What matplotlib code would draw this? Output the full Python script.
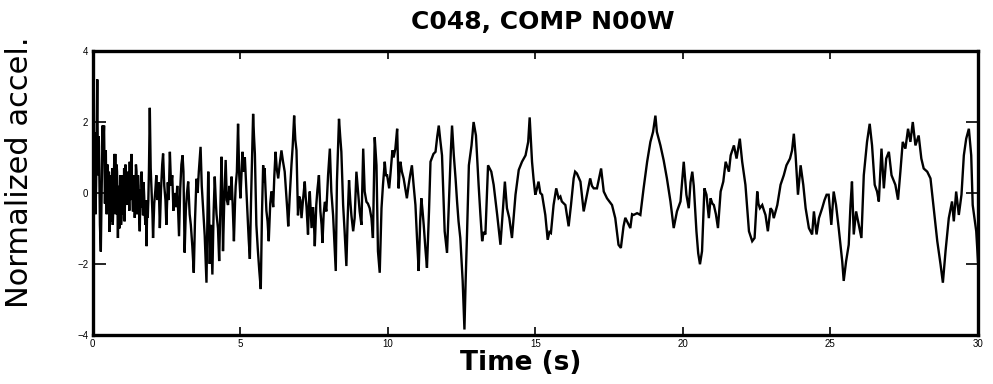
import matplotlib
matplotlib.use("Agg")
import matplotlib.pyplot as plt

TITLE = "C048, COMP N00W"
X_TICKS = [0, 5, 10, 15, 20, 25, 30]
Y_TICKS = [-4, -2, 0, 2, 4]

t_s = [
    0.00, 0.02, 0.04, 0.05, 0.07, 0.09, 0.10, 0.12, 0.13, 0.16,
    0.18, 0.19, 0.21, 0.22, 0.25, 0.28, 0.30, 0.31, 0.33, 0.34,
    0.36, 0.39, 0.41, 0.42, 0.44, 0.45, 0.465, 0.48, 0.495, 0.51,
    0.525, 0.54, 0.555, 0.58, 0.595, 0.61, 0.625, 0.64, 0.655, 0.67,
    0.685, 0.70, 0.72, 0.74, 0.755, 0.77, 0.785, 0.80, 0.815, 0.83,
    0.845, 0.86, 0.875, 0.89, 0.905, 0.92, 0.935, 0.95, 0.965, 0.98,
    0.995, 1.01, 1.025, 1.04, 1.055, 1.07, 1.085, 1.10, 1.115, 1.13,
    1.15, 1.17, 1.19, 1.21, 1.23, 1.245, 1.26, 1.275, 1.29, 1.305,
    1.32, 1.335, 1.35, 1.37, 1.39, 1.41, 1.43, 1.45, 1.47, 1.49,
    1.505, 1.52, 1.54, 1.56, 1.58, 1.60, 1.615, 1.63, 1.645, 1.66,
    1.675, 1.69, 1.71, 1.73, 1.75, 1.77, 1.79, 1.81, 1.83, 1.85,
    1.87, 1.89, 1.91, 1.94, 1.97, 2.00, 2.03, 2.05, 2.09, 2.13,
    2.16, 2.20, 2.24, 2.28, 2.32, 2.36, 2.39, 2.43, 2.47, 2.50,
    2.55, 2.58, 2.62, 2.66, 2.70, 2.74, 2.79, 2.83, 2.87, 2.90, 2.93, 2.97, 3.01, 3.05, 3.08,
    3.12, 3.16, 3.20, 3.24, 3.29, 3.33, 3.38, 3.43, 3.47, 3.52, 3.56, 3.60, 3.66, 3.70, 3.75,
    3.80, 3.86, 3.89, 3.92, 3.95, 3.97, 4.01, 4.06, 4.10, 4.14, 4.18, 4.20, 4.25, 4.29, 4.33,
    4.37, 4.40, 4.42, 4.46, 4.51, 4.55, 4.59, 4.64, 4.68, 4.71, 4.75, 4.79, 4.83, 4.85, 4.89,
    4.93, 4.97, 5.01, 5.05, 5.08,
    5.12, 5.16, 5.20, 5.25, 5.29, 5.33, 5.37, 5.41, 5.44, 5.47, 5.50, 5.55, 5.60, 5.65, 5.70,
    5.74, 5.78, 5.81, 5.83, 5.89, 5.93, 5.97, 6.02, 6.06, 6.10, 6.12, 6.16, 6.20, 6.24, 6.29,
    6.34, 6.40, 6.45, 6.51, 6.56, 6.60, 6.63, 6.68, 6.74, 6.78, 6.83, 6.87, 6.91, 6.96, 7.00,
    7.04, 7.08, 7.13, 7.19, 7.22, 7.25, 7.30, 7.33, 7.36, 7.39, 7.42, 7.47, 7.50, 7.53,
    7.58, 7.62, 7.67, 7.72, 7.76, 7.79, 7.83, 7.87, 7.92, 7.98, 8.04, 8.09, 8.15, 8.20, 8.24,
    8.28, 8.32, 8.35, 8.39, 8.43, 8.49, 8.54, 8.60, 8.64, 8.69, 8.73, 8.77, 8.83, 8.88, 8.94,
    9.00, 9.05, 9.11, 9.17, 9.22, 9.28, 9.33, 9.39, 9.45, 9.50, 9.53, 9.56, 9.62, 9.67, 9.73,
    9.79, 9.84, 9.90, 9.94, 9.98, 10.05, 10.09, 10.16,
    10.20, 10.26, 10.32, 10.37, 10.40, 10.43, 10.48, 10.54, 10.60, 10.65, 10.71, 10.76, 10.82,
    10.88, 10.94, 11.00, 11.05, 11.10, 11.14, 11.18, 11.22, 11.28, 11.33, 11.40, 11.45, 11.55,
    11.62, 11.68, 11.73, 11.78, 11.84, 11.93, 12.01, 12.05, 12.09, 12.14, 12.18, 12.24, 12.30,
    12.35, 12.40, 12.46, 12.54, 12.60, 12.64, 12.69, 12.75, 12.84, 12.91, 12.99, 13.08, 13.14,
    13.20, 13.25, 13.31, 13.40, 13.45, 13.51, 13.59, 13.65, 13.71, 13.82, 13.90, 13.97, 14.04,
    14.12, 14.21, 14.33, 14.44, 14.55, 14.67, 14.76, 14.81,
    14.89, 14.94, 15.00, 15.05, 15.11, 15.17, 15.23, 15.34, 15.42, 15.48, 15.53, 15.62, 15.71,
    15.79, 15.85, 15.90, 16.02, 16.13, 16.21, 16.30, 16.35, 16.41, 16.53, 16.64, 16.75, 16.86,
    16.92, 16.98, 17.09, 17.23, 17.32, 17.43, 17.60, 17.71, 17.82, 17.90, 17.99, 18.05, 18.11,
    18.22, 18.28, 18.33, 18.45, 18.56, 18.67, 18.79, 18.90, 18.99, 19.07, 19.12, 19.24, 19.35,
    19.46, 19.58, 19.69, 19.80, 19.92, 20.03, 20.12, 20.20,
    20.26, 20.32, 20.37, 20.46, 20.52, 20.58, 20.65, 20.73, 20.80, 20.88, 20.94, 21.00, 21.05,
    21.12, 21.19, 21.28, 21.37, 21.45, 21.56, 21.62, 21.73, 21.82, 21.93, 22.01, 22.12, 22.24,
    22.35, 22.43, 22.52, 22.56, 22.61, 22.69, 22.75, 22.80, 22.88, 22.97, 23.03, 23.08, 23.20,
    23.31, 23.42, 23.51, 23.63, 23.70, 23.76, 23.82, 23.90, 23.99, 24.08, 24.16, 24.27, 24.38,
    24.44, 24.53, 24.61, 24.72, 24.80,
    24.87, 24.94, 25.03, 25.11, 25.19, 25.28, 25.40, 25.45, 25.53, 25.62, 25.68, 25.73, 25.79,
    25.87, 25.96, 26.05, 26.13, 26.24, 26.33, 26.41, 26.50, 26.58, 26.64, 26.73, 26.81, 26.89,
    26.98, 27.07, 27.20, 27.29, 27.37, 27.45, 27.54, 27.63, 27.71, 27.79, 27.88, 27.99, 28.08,
    28.16, 28.28, 28.39, 28.50, 28.62, 28.73, 28.81, 28.90, 29.01, 29.12, 29.18, 29.26, 29.35,
    29.44, 29.52, 29.60, 29.69, 29.77, 29.82, 29.88, 29.94, 30.00,
]

# normalized acceleration at each vertex
accel = [
    0.2, -1.3, 0.6, -0.2, 1.7, 0.4, -0.6, 0.2, 0.9, 3.2,
    0.9, 0.5, 1.6, 1.3, -0.9, -1.65, -0.4, 0.4, 1.5, 1.9,
    1.2, 1.9, 0.5, -0.3, 0.7, 1.2, 0.1, -0.6, 0.4, 0.8,
    -0.5, -0.1, 0.6, -1.1, -0.2, 0.5, -0.6, -0.8, 0.3, 0.7,
    -0.9, -0.5, 0.4, 1.1, -0.2, 1.1, -0.6, -0.3, 0.8, 0.6,
    -0.4, -1.27, -0.3, 0.2, -1.0, -0.9, 0.5, 0.3, -0.9, -0.7,
    0.5, 0.4, -0.6, 0.2, -0.3, 0.7, -0.8, -0.2, 0.8, 0.5,
    -0.34, 0.3, 0.6, -0.3, 0.2, -0.5, 0.88, -0.2, 0.3, -0.1,
    1.1, 0.2, -0.1, -0.52, 0.5, 0.3, -0.7, -0.2, 0.8, 0.6,
    -0.6, -0.3, 0.5, 0.2, -0.6, -1.08, -0.2, 0.1, -0.4, 0.6,
    0.3, -0.2, -0.63, 0.3, -0.1, -0.6, -0.9, -0.2, -1.5, -0.4,
    -0.7, -0.2, 0.6, 2.4, 0.7, 0.04, -0.6, -1.27, -0.3, 0.1,
    0.5, -0.2, 0.3, -0.99, 0.1, 0.8, 1.11, 0.2, -0.2, -0.9,
    0.3, -0.2, 1.16, 0.2, 0.5, -0.5, 0.0, -0.4, 0.2, -0.5, -1.22, 0.1, 0.8, 1.06, 0.6,
    -1.68, -0.5, 0.0, 0.32, -0.6, -0.9, -1.5, -2.25, -0.8, 0.4, 0.0, 0.6, 1.3, 0.2, -0.5,
    -1.2, -2.53, -0.8, 0.6, -0.5, -2.0, -0.9, -2.3, -0.6, 0.46, -0.3, -0.6, -1.0, -1.92, -0.4,
    1.02, -0.2, -1.64, -0.3, 0.93, -0.2, -0.34, 0.2, -0.2, 0.46, -0.4, -1.36, -0.2, 0.2, 0.6,
    1.95, 0.5, -0.15, 0.6, 1.16,
    0.6, 1.0, 0.3, -0.6, -1.3, -1.86, -0.2, 1.2, 2.23, 1.6, 1.1, -0.9, -1.6, -2.2, -2.71,
    -0.6, 0.78, 0.3, 0.7, -0.5, -0.8, -1.36, -0.3, 0.04, -0.2, -0.4, 0.5, 1.16, 0.7, 0.41,
    0.8, 1.2, 0.9, 0.6, 0.0, -0.5, -0.94, -0.1, 0.8, 1.3, 2.18, 1.5, 1.2, -0.63, -0.1,
    -0.2, -0.71, -0.2, 0.32, -0.1, -0.4, -1.17, -0.3, 0.04, -0.5, -0.99, -0.4, -0.8, -1.5,
    -0.34, 0.1, 0.5, -0.52, -0.9, -1.41, -0.6, -0.25, -0.52, 0.5, 1.25, 0.04, -0.63, -1.5, -2.2,
    0.32, 1.3, 2.09, 1.6, 1.16, -0.34, -1.08, -2.06, -0.8, 0.36, -0.2, -0.63, -1.08, -0.71, 0.6,
    0.0, -0.52, -0.9, 1.25, 0.04, -0.25, -0.3, -0.43, -0.71, -1.27, 0.2, 1.57, 0.78, -1.64, -2.25,
    -0.43, 0.23, 0.88, 0.5, 0.5, 0.13, 0.5, 1.2,
    1.0, 1.25, 1.81, 0.13, 0.6, 0.88, 0.6, 0.41, 0.1, -0.15, 0.23, 0.5, 0.78,
    0.2, -0.34, -1.4, -2.2, -0.8, -0.15, -0.5, -0.9, -1.6, -2.11, -0.5, 0.88, 1.1,
    1.16, 1.6, 1.9, 1.5, 1.06, -1.08, -1.69, -0.8, 0.04, 1.2, 1.9, 1.06, 0.4,
    -0.24, -0.8, -1.27, -2.48, -3.85, -2.5, -1.08, 0.78, 1.34, 2.0, 1.62, 0.23, -0.6,
    -1.36, -1.1, -1.17, 0.78, 0.7, 0.6, 0.23, -0.2, -0.62, -1.46, -0.52, 0.32, -0.43,
    -0.71, -1.27, -0.05, 0.65, 0.88, 1.06, 1.44, 2.13,
    0.88, 0.41, -0.05, 0.1, 0.32, 0.0, -0.05, -0.62, -1.32, -1.1, -1.13, -0.34, 0.13,
    -0.15, -0.1, -0.24, -0.34, -0.94, -0.34, 0.41, 0.6, 0.55, 0.32, -0.52, -0.05, 0.41,
    0.2, 0.13, 0.13, 0.69, 0.04, -0.15, -0.34, -0.71, -1.46, -1.55, -0.94, -0.7, -0.8,
    -0.99, -0.6, -0.62, -0.57, -0.62, 0.13, 0.88, 1.44, 1.72, 2.18, 1.72, 1.34, 0.92,
    0.41, -0.24, -0.99, -0.52, -0.24, 0.88, -0.05, -0.43,
    0.3, 0.6, 0.2, -1.08, -1.7, -2.01, -1.64, 0.13, -0.05, -0.71, -0.15, -0.3, -0.34,
    -0.6, -0.99, 0.04, 0.32, 0.88, 0.6, 1.06, 1.34, 0.97, 1.53, 0.88, 0.23, -1.08,
    -1.36, -1.27, 0.04, -0.3, -0.43, -0.34, -0.5, -0.62, -1.08, -0.43, -0.5, -0.71, -0.34,
    0.23, 0.5, 0.78, 0.97, 1.2, 1.67, 1.06, -0.05, 0.78, 0.23, -0.43, -0.99, -1.17,
    -0.52, -1.17, -0.71, -0.43, -0.2,
    -0.05, -0.05, -0.9, 0.04, -0.34, -0.99, -1.93, -2.48, -1.93, -1.46, -0.34, 0.32, -1.17,
    -0.52, -0.9, -1.27, 0.5, 1.44, 1.95, 1.34, 0.23, 0.04, -0.24, 1.25, 0.13, 0.97,
    1.16, 0.5, 0.23, -0.19, 0.6, 1.44, 1.25, 1.81, 1.44, 2.0, 1.34, 1.62, 0.97,
    0.69, 0.6, 0.41, -0.43, -1.36, -2.01, -2.53, -1.64, -0.71, -0.24, -0.8, 0.04, -0.62,
    -0.05, 1.06, 1.53, 1.81, 1.06, -0.34, -0.71, -1.08, -1.93,
]

plt.rcParams["font.family"] = ["DejaVu Sans"]

fig = plt.figure(figsize=(9.93, 3.84), dpi=100)
ax = fig.add_axes([0.0932, 0.128, 0.8917, 0.739])

ax.plot(t_s, accel, color="black", linewidth=1.7, solid_joinstyle="miter")

ax.set_xlim(0, 30)
ax.set_ylim(-4, 4)
ax.set_xticks(X_TICKS)
ax.set_yticks(Y_TICKS)
ax.tick_params(direction="in", top=True, right=True, width=1.2, labelsize=7,
               pad=3, colors="black", labelfontfamily="Liberation Sans")
ax.tick_params(axis="x", length=6)
ax.tick_params(axis="y", length=9)
for sp in ax.spines.values():
    sp.set_linewidth(2.4)

ax.set_title(TITLE, fontsize=18, fontweight="bold", x=0.508, pad=16)

ax.set_xlabel("Time (s)", fontsize=19, fontweight="bold")
ax.xaxis.label.set_va("center")
ax.xaxis.set_label_coords(0.484, -0.1)

ax.set_ylabel("Normalized accel.", fontsize=22)
ax.yaxis.label.set_va("center")
ax.yaxis.set_label_coords(-0.083, 0.574)

fig.savefig("out.png", dpi=100)
